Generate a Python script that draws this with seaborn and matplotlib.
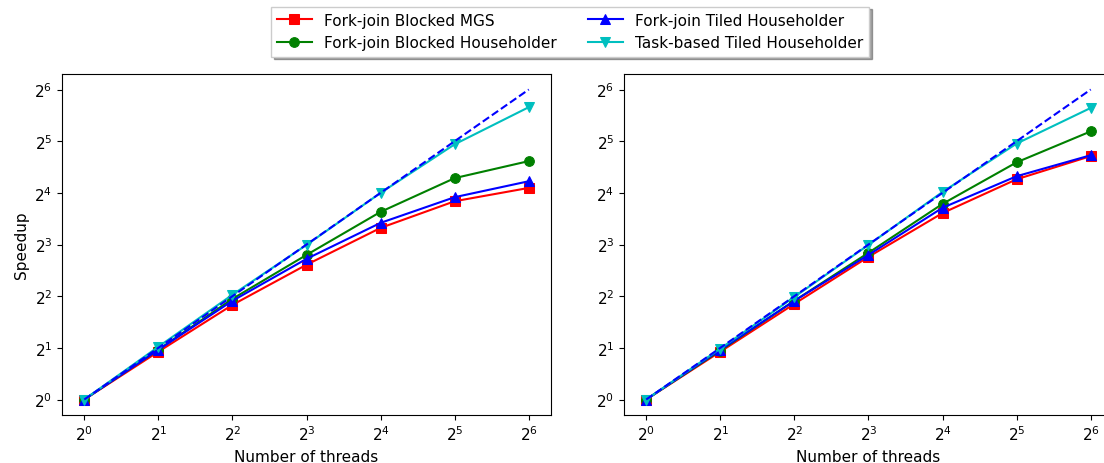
import numpy as np
import pandas as pd
import matplotlib
matplotlib.use("Agg")
import matplotlib.pyplot as plt
import seaborn as sns

# datos
threads = [1, 2, 4, 8, 16, 32, 64]
series_names = ["Fork-join Blocked MGS", "Fork-join Blocked Householder",
                "Fork-join Tiled Householder", "Task-based Tiled Householder"]

left_mgs = [1.0, 1.90, 3.56, 6.1, 10.0, 14.3, 17.1]
left_bh = [1.0, 1.95, 3.86, 6.96, 12.4, 19.5, 24.5]
left_th = [1.0, 1.95, 3.76, 6.6, 10.7, 15.1, 18.7]
left_task = [1.0, 2.03, 4.08, 7.96, 16.0, 30.7, 50.5]

right_mgs = [1.0, 1.90, 3.61, 6.78, 12.2, 19.2, 26.2]
right_bh = [1.0, 1.93, 3.76, 7.16, 13.8, 24.1, 36.5]
right_th = [1.0, 1.95, 3.76, 6.96, 13.1, 20.0, 26.5]
right_task = [1.0, 1.98, 3.96, 7.96, 16.2, 31.0, 50.0]

colors = ["r", "g", "b", "c"]
markers = ["s", "o", "^", "v"]

fig = plt.figure(figsize=(11.04, 4.64), dpi=100)
ax1 = fig.add_axes([0.0562, 0.1034, 0.4429, 0.7349])
ax2 = fig.add_axes([0.5652, 0.1034, 0.4429, 0.7349])

handles = []
for ax, datos in [(ax1, [left_mgs, left_bh, left_th, left_task]),
                  (ax2, [right_mgs, right_bh, right_th, right_task])]:
    handles = []
    for nombre, y, c, m in zip(series_names, datos, colors, markers):
        df = pd.DataFrame({"threads": threads, "speedup": y})
        sns.lineplot(data=df, x="threads", y="speedup", color=c, marker=m,
                     markersize=7, markeredgecolor=c, linewidth=1.5,
                     ax=ax, label=nombre, legend=False)
        handles.append(ax.lines[-1])
    # speedup ideal
    ideal = pd.DataFrame({"threads": threads, "speedup": threads})
    sns.lineplot(data=ideal, x="threads", y="speedup", color="b",
                 linestyle="--", linewidth=1.5, ax=ax, legend=False)
    ax.set_xscale("log", base=2)
    ax.set_yscale("log", base=2)
    ax.set_xticks(threads)
    ax.set_yticks(threads)
    ax.minorticks_off()
    ax.set_xlabel("Number of threads", fontsize=11)
    ax.set_ylabel("")
    ax.tick_params(labelsize=11)

ax1.set_ylabel("Speedup", fontsize=11)

fig.legend(handles, series_names, loc="upper center", ncol=2,
           bbox_to_anchor=(570 / 1104, 1.0), shadow=True, fontsize=11,
           handlelength=2.3, frameon=True, fancybox=False)

fig.savefig("out.png", dpi=100)
